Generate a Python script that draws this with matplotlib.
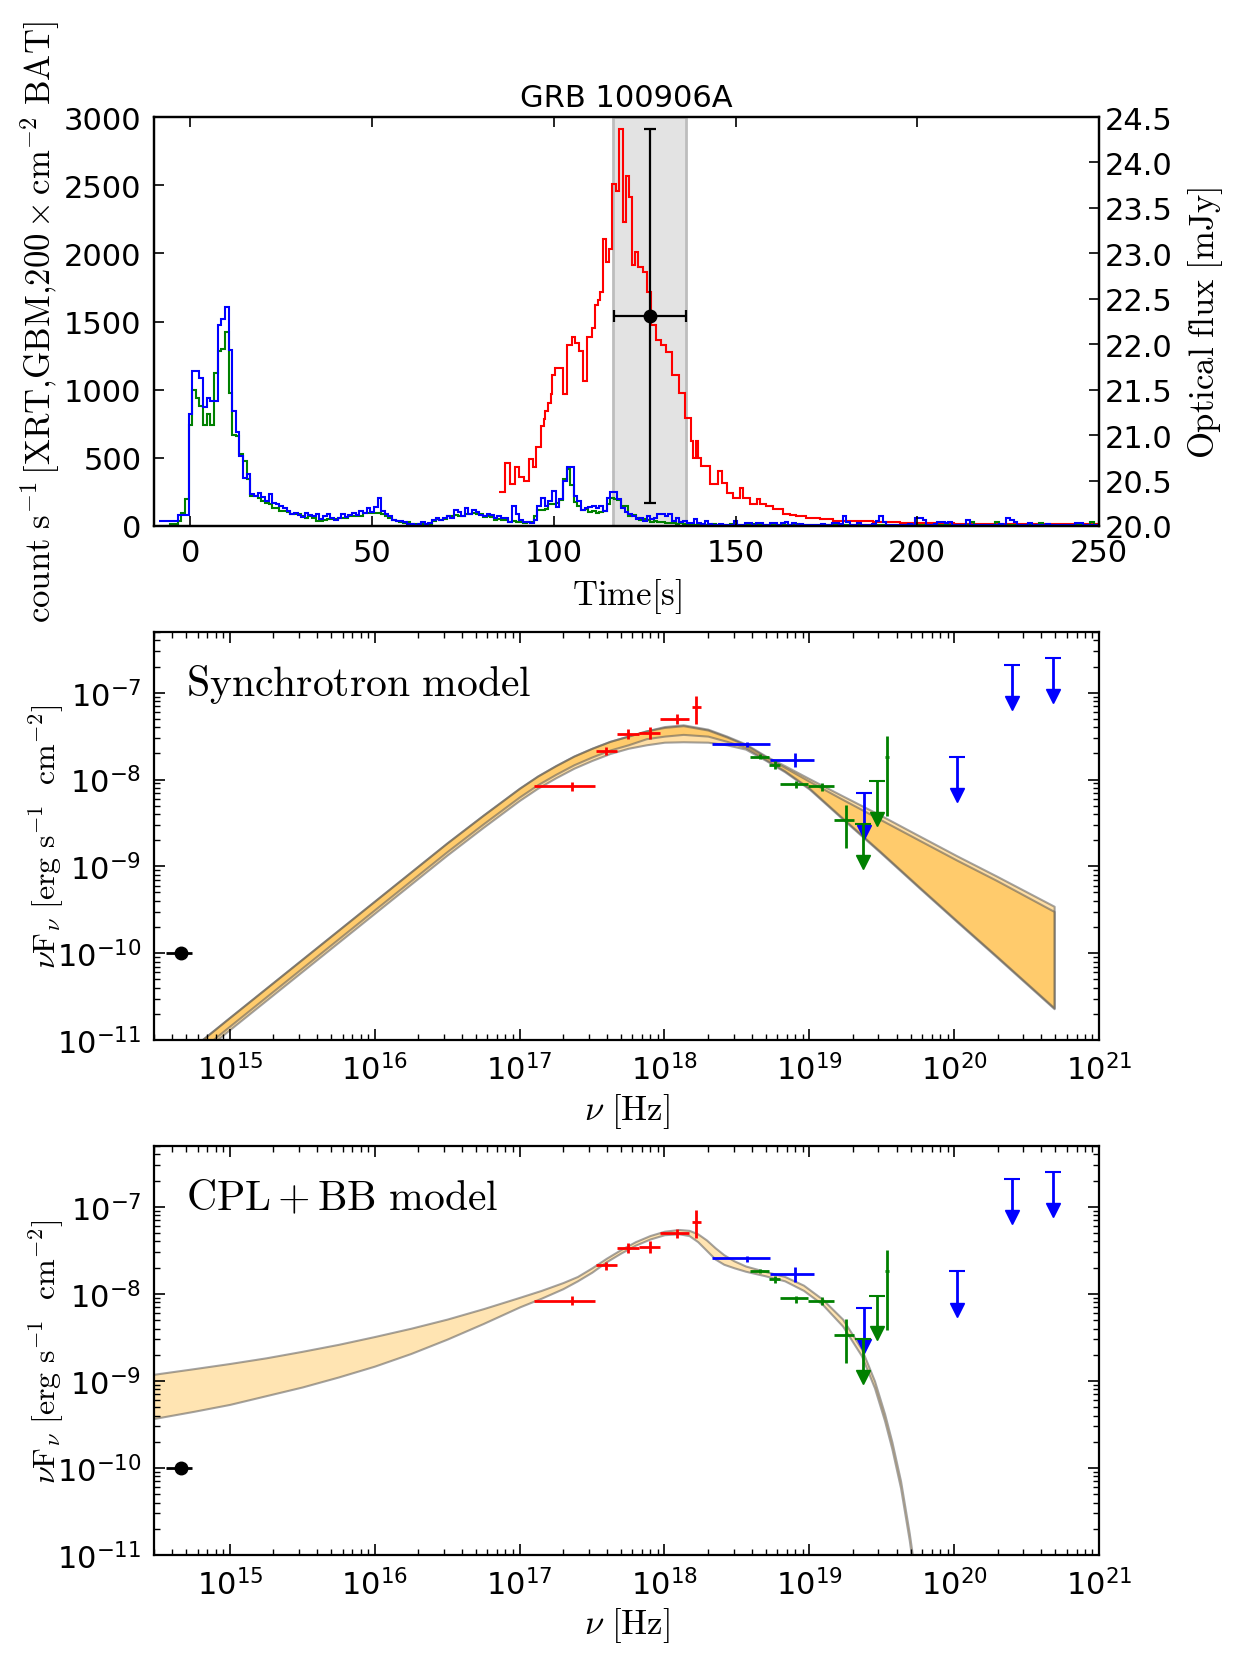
import numpy as np
import matplotlib
matplotlib.use('Agg')
import matplotlib.pyplot as plt

plt.rcParams['font.family'] = 'DejaVu Sans'
plt.rcParams['mathtext.fontset'] = 'dejavusans'
plt.rcParams['axes.linewidth'] = 1.6
plt.rcParams['axes.unicode_minus'] = False

# ---------------- light curves (1 s bins, centres -8 .. 250 s) ----------------
t_bins = np.arange(-8, 251)

bat_rate = [37, 37, 37, 37, 37, 78, 78, 78,
            825, 1140, 1140, 1085, 873, 940, 920, 920, 1471, 1520, 1610, 1293, 847, 690, 512, 354, 383, 232,
            220, 244, 212, 183, 237, 170, 159, 146, 134, 110, 85, 98, 80, 66, 98, 80, 73, 90, 49, 70,
            85, 55, 41, 61, 85, 66, 78, 93, 78, 110, 95, 134, 100, 139, 207, 110, 90, 70, 45, 37,
            37, 30, 15, 15, 10, 15, 30, 15, 20, 45, 60, 45, 60, 75, 60, 119, 100, 75, 134, 90,
            120, 100, 80, 70, 90, 80, 60, 70, 60, 55, 30, 149, 90, 45, 30, 30, 20, 45, 149, 208,
            150, 180, 253, 140, 200, 327, 432, 432, 223, 180, 120, 130, 140, 150, 130, 150, 110, 208, 247, 247,
            200, 130, 100, 90, 70, 50, 60, 40, 75, 50, 60, 85, 85, 70, 85, 40, 60, 30, 40, 25,
            20, 50,
            20, 15, 40, 15, 10, 10, 15, 10, 10, 10, 37,
            10, 10, 20, 25, 10, 20, 25, 10, 10, 20,
            25, 10, 20, 30, 10, 25, 10, 15, 10, 10,
            10, 10, 10, 15, 10, 10, 20, 25, 15, 73,
            30, 10, 10, 20, 10, 10, 10, 15, 40, 73,
            30, 10, 10, 10, 10, 10, 10, 15, 10, 55,
            55, 45, 10, 10, 15, 30, 30, 25, 30, 10,
            10, 10, 10, 45, 10, 10, 10, 10, 10, 10,
            10, 10, 15, 10, 55, 45, 30, 10, 10, 10,
            22, 10, 10, 10, 10, 15, 10, 10, 10, 10,
            10, 10, 10, 22, 22, 10, 10, 10, 10, 10]

gbm_rate = [0, 0, 0, 12, 12, 37, 98, 195,
            744, 1000, 940, 878, 744, 825, 744, 1122, 1281, 1300, 1423, 976, 671, 660, 525, 476, 342, 220,
            220, 207, 183, 170, 159, 134, 134, 110, 110, 100, 85, 85, 85, 70, 61, 73, 61, 37, 37, 45,
            49, 49, 49, 61, 61, 61, 73, 73, 73, 73, 98, 98, 98, 98, 98, 85, 70, 61, 45, 37,
            30, 25, 30, 15, 12, 18, 15, 10, 15, 40, 50, 45, 48, 75, 70, 80, 75, 72, 90, 85,
            95, 90, 88, 68, 72, 64, 45, 50, 42, 45, 30, 35, 28, 30, 25, 32, 30, 75, 119, 115,
            125, 164, 160, 170, 193, 342, 417, 300, 179, 150, 119, 125, 104, 110, 98, 104, 108, 164, 208, 200,
            190, 149, 145, 75, 80, 60, 45, 50, 42, 30, 35, 28, 30, 25, 20, 22, 18, 20, 15, 12,
            15, 10,
            10, 12, 8, 10, 12, 6, 10, 8, 10, 12, 8,
            10, 6, 8, 10, 12, 8, 6, 10, 8, 10,
            8, 10, 6, 8, 10, 8, 12, 6, 8, 10,
            8, 6, 10, 8, 6, 10, 8, 12, 10, 8,
            6, 8, 10, 6, 8, 10, 8, 6, 10, 8,
            6, 8, 10, 6, 8, 10, 6, 8, 10, 8,
            6, 8, 10, 6, 8, 10, 8, 6, 10, 8,
            6, 8, 10, 6, 30, 8, 6, 10, 8, 6,
            8, 30, 6, 8, 10, 6, 8, 10, 6, 8,
            10, 6, 8, 25, 8, 6, 10, 8, 6, 10,
            8, 6, 10, 8, 6, 10, 8, 30, 6, 8]

xrt_edges = [85.0, 86.6, 87.9, 89.3, 90.5, 91.8, 93.2, 94.3, 95.2, 96.6, 97.2, 97.7, 98.4, 99.1,
             99.5, 100.3, 102.4, 103.5, 104.9, 105.8, 107.0, 107.9, 109.0, 110.4, 111.3, 112.2,
             112.8, 113.6, 114.3, 115.2, 116.1, 117.2, 118.0, 118.9, 119.8, 120.6, 121.6, 122.3,
             123.2, 124.4, 125.5, 126.8, 128.0, 129.6, 130.8, 132.6, 134.5, 136.0, 137.6, 138.3,
             139.0, 139.7, 140.6, 142.9, 145.2, 146.4, 147.7, 149.3, 151.2, 152.1, 153.9, 155.8,
             156.7, 158.5, 160.3, 163.1, 164.9, 166.7, 169.5, 173.1, 176.8, 187.8, 195.2, 210.0, 250.0]
xrt_rate = [248, 459, 309, 430, 357, 333, 491, 430, 576, 734, 782, 843, 904, 965, 1110, 1159, 965,
            1329, 1390, 1341, 1281, 1062, 1390, 1451, 1621, 1657, 1718, 2107, 1937, 2034, 2508,
            2459, 2909, 2228, 2569, 2411, 1912, 2010, 1900, 1864, 1718, 1474, 1365, 1328, 1279,
            1109, 975, 792, 621, 500, 621, 500, 439, 305, 402, 317, 244, 207, 280, 207, 158, 195,
            158, 146, 122, 85, 80, 73, 61, 49, 37, 29, 20, 12]

# optical point (right axis, mJy) and shaded interval
opt_t, opt_dt = 126.4, 9.95
opt_flux, opt_err = 22.31, 2.06
span_t = (116.4, 136.3)

# ---------------- SED data (log10 nu [Hz], log10 nuFnu) ----------------
xrt_nu = [17.36, 17.60, 17.75, 17.90, 18.09, 18.22]
xrt_nu_lo = [17.10, 17.53, 17.675, 17.825, 17.97, 18.19]
xrt_nu_hi = [17.52, 17.67, 17.825, 17.97, 18.17, 18.25]
xrt_f = [-8.08, -7.67, -7.47, -7.46, -7.30, -7.17]
xrt_f_lo = [-8.13, -7.72, -7.53, -7.53, -7.355, -7.36]
xrt_f_hi = [-8.03, -7.63, -7.42, -7.39, -7.25, -7.04]

bat_nu = [18.57, 18.90]
bat_nu_lo = [18.33, 18.73]
bat_nu_hi = [18.73, 19.03]
bat_f = [-7.59, -7.77]
bat_f_lo = [-7.63, -7.86]
bat_f_hi = [-7.565, -7.69]
bat_ul_nu = [19.38, 20.02, 20.40, 20.685]
bat_ul_top = [-8.16, -7.74, -6.68, -6.60]
bat_ul_bot = [-8.60, -8.18, -7.12, -7.04]

gbm_nu = [18.66, 18.76, 18.91, 19.09, 19.25, 19.533]
gbm_nu_lo = [18.59, 18.725, 18.80, 18.99, 19.17, 19.52]
gbm_nu_hi = [18.725, 18.80, 18.99, 19.17, 19.31, 19.547]
gbm_f = [-7.74, -7.83, -8.05, -8.08, -8.47, -7.74]
gbm_f_lo = [-7.76, -7.88, -8.10, -8.13, -8.79, -8.42]
gbm_f_hi = [-7.71, -7.79, -8.02, -8.04, -8.29, -7.50]
gbm_ul_nu = [19.37, 19.47]
gbm_ul_top = [-8.515, -8.02]
gbm_ul_bot = [-8.95, -8.45]

opt_nu, opt_nu_lo, opt_nu_hi, opt_f = 14.66, 14.56, 14.74, -10.0

# synchrotron model band (two overlapping envelopes)
syn_nu = [14.80, 15.0, 15.5, 16.0, 16.5, 16.75, 17.0, 17.125, 17.25, 17.375, 17.5, 17.625, 17.75,
          17.875, 18.0, 18.13, 18.3, 18.43, 18.56, 18.70, 18.83, 19.0, 19.22, 19.49, 19.76, 20.02,
          20.29, 20.69]
syn_hi = [-11.01, -10.74, -10.07, -9.40, -8.73, -8.41, -8.10, -7.96, -7.84, -7.73, -7.64, -7.56,
          -7.50, -7.44, -7.39, -7.37, -7.42, -7.50, -7.59, -7.73, -7.84, -7.99, -8.18, -8.41, -8.65,
          -8.88, -9.11, -9.46]
syn_lo = [-11.15, -10.88, -10.21, -9.54, -8.87, -8.55, -8.24, -8.10, -7.98, -7.87, -7.78, -7.70,
          -7.64, -7.60, -7.57, -7.565, -7.57, -7.60, -7.65, -7.78, -7.91, -8.11, -8.44, -8.84, -9.25,
          -9.64, -10.04, -10.64]
syn_hi2 = [-11.01, -10.74, -10.07, -9.40, -8.73, -8.41, -8.10, -7.96, -7.84, -7.73, -7.64, -7.56,
           -7.50, -7.44, -7.40, -7.38, -7.43, -7.51, -7.60, -7.74, -7.86, -8.02, -8.22, -8.46, -8.70,
           -8.93, -9.16, -9.52]
syn_lo2 = [-11.11, -10.84, -10.17, -9.50, -8.83, -8.51, -8.20, -8.06, -7.94, -7.83, -7.74, -7.66,
           -7.60, -7.53, -7.50, -7.48, -7.50, -7.56, -7.63, -7.77, -7.90, -8.10, -8.43, -8.83, -9.24,
           -9.63, -10.03, -10.63]

# CPL + BB model band
cpl_nu = [14.45, 14.75, 15.0, 15.25, 15.5, 15.75, 16.0, 16.25, 16.5, 16.75, 17.0, 17.15, 17.3, 17.4,
          17.5, 17.6, 17.7, 17.8, 17.9, 18.0, 18.1, 18.17, 18.23, 18.29, 18.35, 18.41, 18.48, 18.56,
          18.69, 18.83, 18.96, 19.09, 19.23, 19.36, 19.45, 19.52, 19.57, 19.63, 19.69, 19.75]
cpl_hi = [-8.93, -8.86, -8.80, -8.735, -8.66, -8.58, -8.49, -8.395, -8.29, -8.17, -8.04, -7.96,
          -7.87, -7.80, -7.70, -7.59, -7.49, -7.40, -7.33, -7.28, -7.26, -7.27, -7.31, -7.38, -7.47,
          -7.55, -7.62, -7.68, -7.74, -7.80, -7.90, -8.06, -8.29, -8.63, -9.00, -9.38, -9.70,
          -10.15, -10.75, -11.45]
cpl_lo = [-9.44, -9.35, -9.27, -9.17, -9.07, -8.955, -8.83, -8.685, -8.52, -8.34, -8.15, -8.05,
          -7.94, -7.85, -7.75, -7.63, -7.53, -7.44, -7.37, -7.32, -7.31, -7.33, -7.40, -7.50, -7.60,
          -7.66, -7.70, -7.74, -7.79, -7.85, -7.96, -8.12, -8.37, -8.71, -9.08, -9.46, -9.78,
          -10.23, -10.83, -11.55]

# ---------------- figure ----------------
fig = plt.figure(figsize=(12.36, 16.65), dpi=100)
ax_lc = fig.add_axes([0.1246, 0.6835, 0.7646, 0.2456])
ax_syn = fig.add_axes([0.1246, 0.3748, 0.7646, 0.2450])
ax_cpl = fig.add_axes([0.1246, 0.0655, 0.7646, 0.2456])

tick_fs = 22
label_fs = 25

# light curve panel
edges = np.append(t_bins - 0.5, t_bins[-1] + 0.5)
ax_lc.axvspan(span_t[0], span_t[1], facecolor='#e3e3e3', edgecolor='#bdbdbd', lw=2, zorder=0)
ax_lc.stairs(xrt_rate, xrt_edges, baseline=None, color='r', lw=1.5)
ax_lc.stairs(gbm_rate, edges, baseline=None, color='g', lw=1.5)
ax_lc.stairs(bat_rate, edges, baseline=None, color='b', lw=1.5)
ax_lc.set_xlim(-10, 250)
ax_lc.set_ylim(0, 3000)
ax_lc.set_xticks(np.arange(0, 251, 50))
ax_lc.set_yticks(np.arange(0, 3001, 500))
ax_lc.tick_params(direction='in', labelsize=tick_fs, length=7, width=1.2, top=True, right=False, pad=9)
ax_lc.set_title('GRB 100906A', fontsize=22, pad=8)
ax_lc.set_xlabel(r'$\mathrm{Time[s]}$', fontsize=label_fs, math_fontfamily='cm', labelpad=6)
ax_lc.set_ylabel(r'$\mathrm{count\ s^{-1}\,[XRT{,}GBM{,}200\times cm^{-2}\ BAT]}$',
                 fontsize=label_fs, math_fontfamily='cm')
ax_lc.yaxis.set_label_coords(-0.097, 0.5)

ax_opt = ax_lc.twinx()
ax_opt.errorbar([opt_t], [opt_flux], xerr=[opt_dt], yerr=[opt_err], fmt='o', color='k',
                ms=9, capsize=4.5, elinewidth=1.6, capthick=1.6)
ax_opt.set_ylim(20, 24.5)
ax_opt.set_yticks(np.arange(20, 24.51, 0.5))
ax_opt.set_yticklabels(['%.1f' % v for v in np.arange(20, 24.51, 0.5)])
ax_opt.tick_params(direction='in', labelsize=tick_fs, length=7, width=1.2, pad=4)
ax_opt.set_ylabel(r'$\mathrm{Optical\ flux\ [mJy]}$', fontsize=label_fs, math_fontfamily='cm')
ax_opt.yaxis.set_label_coords(1.092, 0.5)


def draw_points(ax):
    x = 10 ** np.array(xrt_nu)
    ax.errorbar(x, 10 ** np.array(xrt_f),
                xerr=[x - 10 ** np.array(xrt_nu_lo), 10 ** np.array(xrt_nu_hi) - x],
                yerr=[10 ** np.array(xrt_f) - 10 ** np.array(xrt_f_lo),
                      10 ** np.array(xrt_f_hi) - 10 ** np.array(xrt_f)],
                fmt='none', ecolor='r', elinewidth=2)
    x = 10 ** np.array(bat_nu)
    ax.errorbar(x, 10 ** np.array(bat_f),
                xerr=[x - 10 ** np.array(bat_nu_lo), 10 ** np.array(bat_nu_hi) - x],
                yerr=[10 ** np.array(bat_f) - 10 ** np.array(bat_f_lo),
                      10 ** np.array(bat_f_hi) - 10 ** np.array(bat_f)],
                fmt='none', ecolor='b', elinewidth=2)
    x = 10 ** np.array(gbm_nu)
    ax.errorbar(x, 10 ** np.array(gbm_f),
                xerr=[x - 10 ** np.array(gbm_nu_lo), 10 ** np.array(gbm_nu_hi) - x],
                yerr=[10 ** np.array(gbm_f) - 10 ** np.array(gbm_f_lo),
                      10 ** np.array(gbm_f_hi) - 10 ** np.array(gbm_f)],
                fmt='none', ecolor='g', elinewidth=2)
    for nu, top, bot, c in [(bat_ul_nu, bat_ul_top, bat_ul_bot, 'b'),
                            (gbm_ul_nu, gbm_ul_top, gbm_ul_bot, 'g')]:
        nu = 10 ** np.array(nu)
        ax.vlines(nu, 10 ** np.array(bot), 10 ** np.array(top), colors=c, lw=2)
        ax.plot(nu, 10 ** np.array(top), '_', color=c, ms=12, mew=1.5, ls='none')
        ax.plot(nu, 10 ** np.array(bot), 'v', color=c, ms=10, ls='none')
    x = 10 ** opt_nu
    ax.errorbar([x], [10 ** opt_f], xerr=[[x - 10 ** opt_nu_lo], [10 ** opt_nu_hi - x]],
                fmt='o', color='k', ms=9, elinewidth=2)


def style_sed(ax, name):
    ax.set_xscale('log')
    ax.set_yscale('log')
    ax.set_xlim(3e14, 1e21)
    ax.set_ylim(1e-11, 5e-7)
    ax.tick_params(which='both', direction='in', top=True, right=True, labelsize=tick_fs, pad=9)
    ax.tick_params(which='major', length=8, width=1.2)
    ax.tick_params(which='minor', length=4, width=1.0)
    ax.set_xlabel(r'$\nu\ [\mathrm{Hz}]$', fontsize=label_fs, math_fontfamily='cm', labelpad=4)
    ax.set_ylabel(r'$\nu\mathrm{F}_\nu\ [\mathrm{erg\ s^{-1}\ \ cm^{-2}}]$', fontsize=23,
                  math_fontfamily='cm')
    ax.yaxis.set_label_coords(-0.093, 0.5)
    ax.text(0.034, 0.846, name, transform=ax.transAxes, fontsize=30, math_fontfamily='cm')


orange = (1.0, 0.65, 0.0, 0.35)
edge = (0.35, 0.35, 0.35, 0.55)

ax_syn.fill_between(10 ** np.array(syn_nu), 10 ** np.array(syn_lo), 10 ** np.array(syn_hi),
                    facecolor=orange, edgecolor=edge, lw=1.5)
ax_syn.fill_between(10 ** np.array(syn_nu), 10 ** np.array(syn_lo2), 10 ** np.array(syn_hi2),
                    facecolor=orange, edgecolor=edge, lw=1.5)
draw_points(ax_syn)
style_sed(ax_syn, r'$\mathrm{Synchrotron\ model}$')

ax_cpl.fill_between(10 ** np.array(cpl_nu), 10 ** np.array(cpl_lo), 10 ** np.array(cpl_hi),
                    facecolor=(1.0, 0.65, 0.0, 0.3), edgecolor=edge, lw=1.5)
draw_points(ax_cpl)
style_sed(ax_cpl, r'$\mathrm{CPL+BB\ model}$')

fig.savefig('out.png', dpi=100)
